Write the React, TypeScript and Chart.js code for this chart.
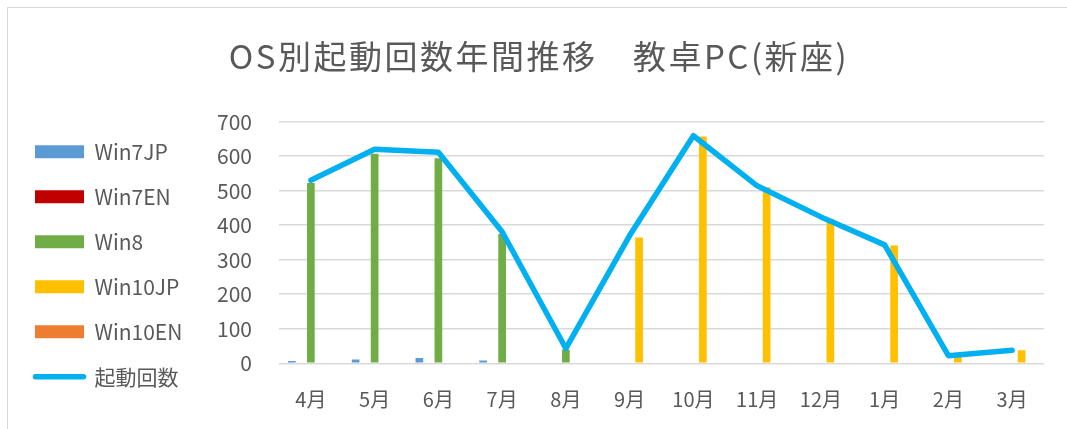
import React, { useEffect, useRef } from 'react';
import { Chart, registerables } from 'chart.js';

Chart.register(...registerables);

const months = ['4月', '5月', '6月', '7月', '8月', '9月', '10月', '11月', '12月', '1月', '2月', '3月'];
const win7jp = [7, 11, 15, 8, 0, 0, 0, 0, 0, 0, 0, 0];
const win7en = [0, 0, 0, 0, 0, 0, 0, 0, 0, 0, 0, 0];
const win8 = [522, 607, 594, 375, 40, 0, 0, 0, 0, 0, 0, 0];
const win10jp = [0, 0, 0, 0, 0, 364, 657, 510, 419, 341, 18, 38];
const win10en = [0, 0, 0, 0, 0, 0, 0, 0, 0, 0, 0, 0];
const launches = [530, 620, 611, 381, 43, 370, 659, 514, 424, 343, 22, 38];

const TITLE = 'OS別起動回数年間推移　教卓PC(新座)';
const FONT = "'Noto Sans CJK JP', 'Noto Sans', sans-serif";
const TEXT = '#595959';
const GRID = '#d9d9d9';
const LINE_COLOR = '#00b0f0';

const PAD_LEFT = 3;
const PLOT_LEFT = 271; // canvas coords
const TITLE_SHIFT = 11.5;

const tweaks = {
  id: 'tweaks',
  afterLayout(chart: any) {
    const t = chart.titleBlock;
    if (t) {
      t.left += TITLE_SHIFT;
      t.right += TITLE_SHIFT;
      if (!t.__wrapped) {
        const orig = t.draw.bind(t);
        t.draw = (...args: any[]) => {
          const ctx = chart.ctx;
          const prev = ctx.letterSpacing;
          ctx.letterSpacing = '2.5px';
          orig(...args);
          ctx.letterSpacing = prev || '0px';
        };
        t.__wrapped = true;
      }
    }
  },
  afterDraw(chart: any) {
    const lg = chart.legend;
    if (!lg || !lg.legendHitBoxes) return;
    const items = lg.legendItems || [];
    const bw = lg.options.labels.boxWidth;
    items.forEach((it: any, i: number) => {
      if (it.datasetIndex !== 5) return;
      const hb = lg.legendHitBoxes[i];
      if (!hb) return;
      const ctx = chart.ctx;
      ctx.save();
      ctx.strokeStyle = LINE_COLOR;
      ctx.lineWidth = 5.5;
      ctx.lineCap = 'round';
      const y = hb.top + hb.height / 2;
      ctx.beginPath();
      ctx.moveTo(hb.left + 0.5, y);
      ctx.lineTo(hb.left + bw - 0.5, y);
      ctx.stroke();
      ctx.restore();
    });
  },
};

export default function App() {
  const ref = useRef<HTMLCanvasElement | null>(null);
  useEffect(() => {
    if (!ref.current) return;
    Chart.defaults.font.family = FONT;
    Chart.defaults.color = TEXT;
    const barCommon = { barPercentage: 0.81, categoryPercentage: 0.745, borderWidth: 0 };
    const chart = new Chart(ref.current, {
      type: 'bar',
      data: {
        labels: months,
        datasets: [
          { label: 'Win7JP', data: win7jp, backgroundColor: '#5b9bd5', ...barCommon },
          { label: 'Win7EN', data: win7en, backgroundColor: '#c00000', ...barCommon },
          { label: 'Win8', data: win8, backgroundColor: '#70ad47', ...barCommon },
          { label: 'Win10JP', data: win10jp, backgroundColor: '#ffc000', ...barCommon },
          { label: 'Win10EN', data: win10en, backgroundColor: '#ed7d31', ...barCommon },
          {
            type: 'line',
            label: '起動回数',
            data: launches,
            borderColor: LINE_COLOR,
            backgroundColor: LINE_COLOR,
            borderWidth: 5.5,
            pointRadius: 0,
            tension: 0,
            borderJoinStyle: 'round',
            borderCapStyle: 'round',
            order: -1,
          } as any,
        ],
      },
      options: {
        responsive: false,
        animation: false,
        devicePixelRatio: 1,
        layout: { padding: { left: PAD_LEFT, right: 23, top: 0, bottom: 17.7 } },
        plugins: {
          title: {
            display: true,
            text: TITLE,
            color: TEXT,
            font: { size: 33, weight: 'normal', family: FONT },
            padding: { top: 29, bottom: 45 },
          },
          legend: {
            display: true,
            position: 'left',
            align: 'end',
            labels: {
              boxWidth: 49,
              boxHeight: 13,
              padding: 24,
              color: TEXT,
              font: { size: 21, family: FONT },
              sort: (a: any, b: any) => a.datasetIndex - b.datasetIndex,
              generateLabels: (chart: any) => {
                const items = Chart.defaults.plugins.legend.labels.generateLabels(chart);
                return items.map((it: any) => {
                  if (it.datasetIndex === 5) {
                    return { ...it, fillStyle: 'rgba(0,0,0,0)', strokeStyle: 'rgba(0,0,0,0)', lineWidth: 0 };
                  }
                  return { ...it, lineWidth: 0 };
                });
              },
            },
          },
          tooltip: { enabled: false },
        },
        scales: {
          x: {
            grid: { display: false, drawTicks: false },
            border: { display: false },
            ticks: { color: TEXT, font: { size: 20, family: FONT }, padding: 24, maxRotation: 0, autoSkip: false },
            afterFit: (s: any) => {
              s.height = 48;
            },
          },
          y: {
            min: 0,
            max: 700,
            grid: { color: GRID, lineWidth: 1.5, drawTicks: false },
            border: { display: false },
            ticks: { stepSize: 100, color: TEXT, font: { size: 21, family: FONT }, padding: 27 },
            afterFit: (s: any) => {
              const lw = s.chart.legend ? s.chart.legend.width : 0;
              s.width = PLOT_LEFT - PAD_LEFT - lw;
            },
          },
        },
      },
      plugins: [tweaks],
    });
    return () => chart.destroy();
  }, []);

  return (
    <div
      style={{
        position: 'fixed',
        left: 7,
        top: 7,
        width: 1060,
        height: 422,
        borderLeft: '1px solid #d9d9d9',
        borderTop: '1px solid #d9d9d9',
        background: '#fff',
        boxSizing: 'border-box',
      }}
    >
      <canvas ref={ref} width={1059} height={421} style={{ display: 'block', width: 1059, height: 421 }} />
    </div>
  );
}
